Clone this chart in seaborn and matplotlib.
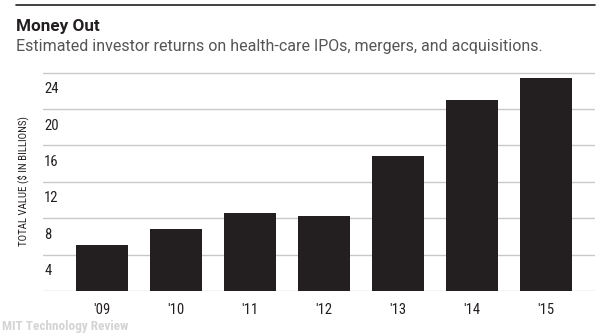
import matplotlib
matplotlib.use("Agg")
import matplotlib.pyplot as plt
import matplotlib.transforms as mtransforms
import seaborn as sns
import pandas as pd

years = ["'09", "'10", "'11", "'12", "'13", "'14", "'15"]
values = [5.1, 6.8, 8.6, 8.2, 14.8, 21.0, 23.4]
yticks = [0, 4, 8, 12, 16, 20, 24]
ytick_labels = ["", "4", "8", "12", "16", "20", "24"]

title = "Money Out"
subtitle = "Estimated investor returns on health-care IPOs, mergers, and acquisitions."
ylabel = "TOTAL VALUE ($ IN BILLIONS)"
credit = "MIT Technology Review"

sns.set_theme(style="white")
COND = ["Roboto Condensed", "Liberation Sans Narrow", "DejaVu Sans Condensed", "DejaVu Sans"]
REG = ["Roboto", "DejaVu Sans"]
plt.rcParams["font.family"] = COND

df = pd.DataFrame({"year": years, "value": values})

fig = plt.figure(figsize=(6.02, 3.34), dpi=100)
W, H = 602, 334
ax = fig.add_axes([43 / W, (H - 291) / H, (595 - 43) / W, (291 - 70.8) / H])

sns.barplot(data=df, x="year", y="value", color="#231f20", saturation=1,
            width=0.71, ax=ax, zorder=3)
for p in ax.patches:
    p.set_edgecolor("none")

ax.set_xlim(-0.797, 6.66)
ax.set_ylim(0, 24.2)
ax.set_yticks(yticks)
ax.set_yticklabels([])
ax.tick_params(axis="y", length=0)
ax.tick_params(axis="x", length=0, pad=9, labelsize=10.5, labelcolor="#231f20")
ax.grid(axis="y", color="#c9c9c9", linewidth=1.0)
ax.grid(axis="x", visible=False)
ax.set_axisbelow(True)
for s in ax.spines.values():
    s.set_visible(False)
ax.set_xlabel("")
ax.set_ylabel("")

trans = mtransforms.blended_transform_factory(ax.transAxes, ax.transData)
trans = mtransforms.offset_copy(trans, fig=fig, x=0, y=-9.5, units="dots")
for v, lab in zip(yticks, ytick_labels):
    if lab:
        ax.text(0.002, v, lab, transform=trans, ha="left", va="top",
                fontsize=10.5, color="#231f20")

fig.text(23 / W, 1 - 181 / H, ylabel, rotation=90, ha="center", va="center",
         fontsize=7.8, color="#231f20")

# top rule
fig.add_artist(plt.Line2D([16 / W, 595 / W], [1 - 5 / H, 1 - 5 / H],
                          color="#231f20", linewidth=1.2))

fig.text(16 / W, 1 - 30.5 / H, title, ha="left", va="baseline",
         fontsize=12.3, fontweight="bold", color="#231f20", family=REG)
fig.text(16 / W, 1 - 50.5 / H, subtitle, ha="left", va="baseline",
         fontsize=11.55, color="#555555", family=REG)
fig.text(2 / W, 1 - 330 / H, credit, ha="left", va="baseline",
         fontsize=9.5, fontweight="bold", color="#d4d4d4")

fig.savefig("out.png", dpi=100)
